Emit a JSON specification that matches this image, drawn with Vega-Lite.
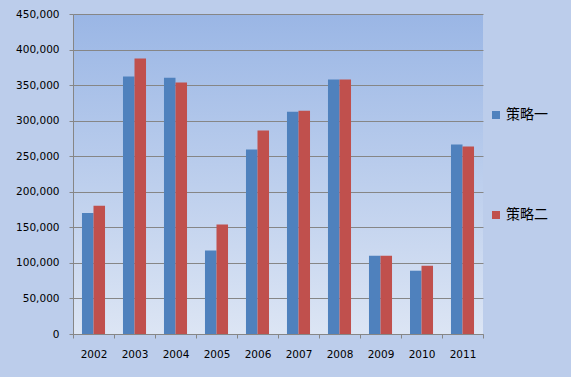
{
  "$schema": "https://vega.github.io/schema/vega-lite/v6.json",
  "width": 410,
  "height": 320,
  "autosize": {"type": "none"},
  "padding": {"left": 73, "top": 14, "right": 88, "bottom": 43},
  "background": "#bccdeb",
  "config": {
    "view": {
      "stroke": null,
      "fill": {"gradient": "linear", "x1": 0, "y1": 0, "x2": 0, "y2": 1,
        "stops": [{"offset": 0, "color": "#9ab6e5"}, {"offset": 1, "color": "#dce5f4"}]}
    },
    "axis": {
      "labelFont": "DejaVu Sans",
      "labelFontSize": 10.5,
      "labelColor": "#000000",
      "domainColor": "#868686",
      "tickColor": "#868686",
      "gridColor": "#868686",
      "gridOpacity": 1,
      "tickSize": 4,
      "domainWidth": 1,
      "tickWidth": 1
    }
  },
  "data": {
    "values": [
      {"year": "2002", "series": "策略一", "value": 170000},
      {"year": "2002", "series": "策略二", "value": 180500},
      {"year": "2003", "series": "策略一", "value": 362000},
      {"year": "2003", "series": "策略二", "value": 387500},
      {"year": "2004", "series": "策略一", "value": 360500},
      {"year": "2004", "series": "策略二", "value": 353500},
      {"year": "2005", "series": "策略一", "value": 117500},
      {"year": "2005", "series": "策略二", "value": 154000},
      {"year": "2006", "series": "策略一", "value": 259500},
      {"year": "2006", "series": "策略二", "value": 286000},
      {"year": "2007", "series": "策略一", "value": 312500},
      {"year": "2007", "series": "策略二", "value": 314000},
      {"year": "2008", "series": "策略一", "value": 358000},
      {"year": "2008", "series": "策略二", "value": 358000},
      {"year": "2009", "series": "策略一", "value": 110000},
      {"year": "2009", "series": "策略二", "value": 110000},
      {"year": "2010", "series": "策略一", "value": 89000},
      {"year": "2010", "series": "策略二", "value": 96000},
      {"year": "2011", "series": "策略一", "value": 266500},
      {"year": "2011", "series": "策略二", "value": 263500}
    ]
  },
  "mark": {"type": "bar"},
  "encoding": {
    "x": {
      "field": "year",
      "type": "nominal",
      "scale": {"paddingInner": 0, "paddingOuter": 0},
      "axis": {"title": null, "labelAngle": 0, "tickBand": "extent", "labelPadding": 11}
    },
    "xOffset": {
      "field": "series",
      "scale": {"paddingInner": 0, "paddingOuter": 0.78}
    },
    "y": {
      "field": "value",
      "type": "quantitative",
      "scale": {"domain": [0, 450000], "nice": false},
      "axis": {
        "title": null,
        "values": [0, 50000, 100000, 150000, 200000, 250000, 300000, 350000, 400000, 450000],
        "format": ",.0f",
        "labelPadding": 10
      }
    },
    "color": {
      "field": "series",
      "type": "nominal",
      "scale": {"domain": ["策略一", "策略二"], "range": ["#4f81bd", "#c0504d"]},
      "legend": {
        "title": null,
        "orient": "none",
        "legendX": 416,
        "legendY": 94,
        "symbolType": "square",
        "symbolSize": 64,
        "symbolStrokeWidth": 0,
        "labelFont": "Noto Sans CJK SC",
        "labelFontSize": 14,
        "labelColor": "#000000",
        "labelOffset": 3,
        "rowPadding": 86
      }
    }
  }
}
